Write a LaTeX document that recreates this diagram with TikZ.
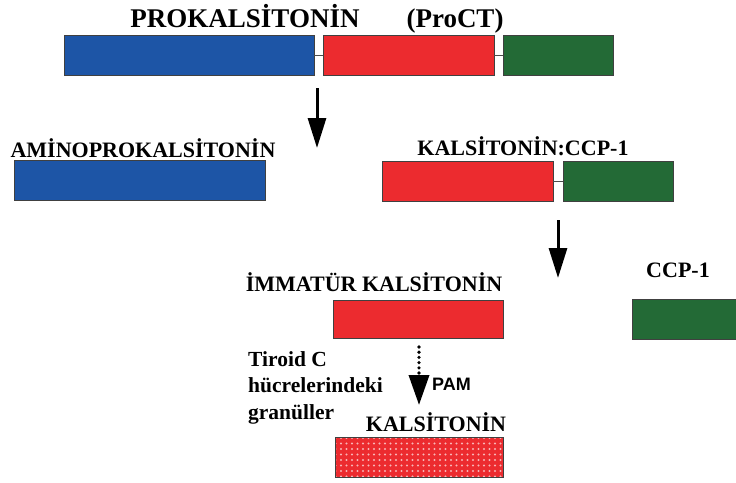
\documentclass[tikz,border=0pt]{standalone}
\usepackage{fontspec}
\setmainfont{Liberation Serif}
\newfontfamily\pamfont{Liberation Sans}
\usepackage{xcolor}
\usepackage{tikz}
\usetikzlibrary{arrows.meta,positioning,patterns.meta}
\definecolor{ctblue}{HTML}{1D55A6}
\definecolor{ctred}{HTML}{EC2B2F}
\definecolor{ctgreen}{HTML}{236A36}
\tikzset{
  bar/.style={draw=black!75,line width=0.9pt,inner sep=0pt,outer sep=0pt,
              anchor=north west,minimum height=40pt},
  bluebar/.style={bar,fill=ctblue},
  redbar/.style={bar,fill=ctred},
  greenbar/.style={bar,fill=ctgreen},
  dotbar/.style={bar,preaction={fill=ctred},
                 pattern={Dots[distance=5.5pt,radius=1.1pt]},pattern color=ctred!35!white},
  tag/.style={font=\bfseries\fontsize{22}{24}\selectfont,inner sep=0pt,anchor=base},
  link/.style={black!70,line width=0.9pt},
  cleave/.style={-{Triangle[length=30pt,width=18pt]},line width=3pt},
}

\begin{document}
\begin{tikzpicture}[x=1pt,y=-1pt]
\clip (0,0) rectangle (736,482);

% full precursor
\node[bluebar, minimum width=250pt] (pblue) at (64,35) {};
\node[redbar, minimum width=171pt] (pred) at (323,35) {};
\node[greenbar, minimum width=110pt] (pgreen) at (503,35) {};
\node[tag, font=\bfseries\fontsize{27}{29}\selectfont] (ptitle) at (245,27) {PROKALSİTONİN};
\node[tag, font=\bfseries\fontsize{27}{29}\selectfont] (pshort) at (455,27) {(ProCT)};
\draw[link] (pblue.east) -- (pred.west);
\draw[link] (pred.east) -- (pgreen.west);

% first cleavage
\coordinate (c1a) at (317,88);
\coordinate (c1b) at (317,148);
\draw[cleave] (c1a) -- (c1b);

\node[bluebar, minimum width=251pt] (ablue) at (14,160) {};
\node[tag] (atitle) at (143,157) {AMİNOPROKALSİTONİN};

\node[redbar, minimum width=171pt] (kred) at (382,161) {};
\node[greenbar, minimum width=110pt] (kgreen) at (563,161) {};
\node[tag] (ktitle) at (523,155) {KALSİTONİN:CCP-1};
\draw[link] (kred.east) -- (kgreen.west);

% second cleavage
\coordinate (c2a) at (558,220);
\coordinate (c2b) at (558,278);
\draw[cleave] (c2a) -- (c2b);

\node[redbar, minimum width=170pt, minimum height=38pt] (imred) at (333,300) {};
\node[tag] (imtitle) at (374,291) {İMMATÜR KALSİTONİN};

\node[greenbar, minimum width=110pt, minimum height=40pt] (ccpbar) at (632,299) {};
\node[tag] (ccptitle) at (678,277) {CCP-1};

% amidation in the granules
\coordinate (c3a) at (419,347);
\coordinate (c3b) at (419,405);
\draw[-{Triangle[length=30pt,width=20pt]}, line width=3.6pt, line cap=round,
      dash pattern=on 0pt off 5.2pt] (c3a) -- (c3b);
\node[inner sep=0pt, anchor=base west, font=\pamfont\bfseries\fontsize{18}{20}\selectfont]
  (pam) at (432,390) {PAM};
\node[inner sep=0pt, anchor=north west, align=left,
      font=\bfseries\fontsize{21.5}{26.5}\selectfont] (granul) at (248,351)
  {Tiroid C\\hücrelerindeki\\granüller};

\node[dotbar, minimum width=168pt] (kdots) at (335,437) {};
\node[tag] (kfinal) at (436,431) {KALSİTONİN};

\end{tikzpicture}
\end{document}
